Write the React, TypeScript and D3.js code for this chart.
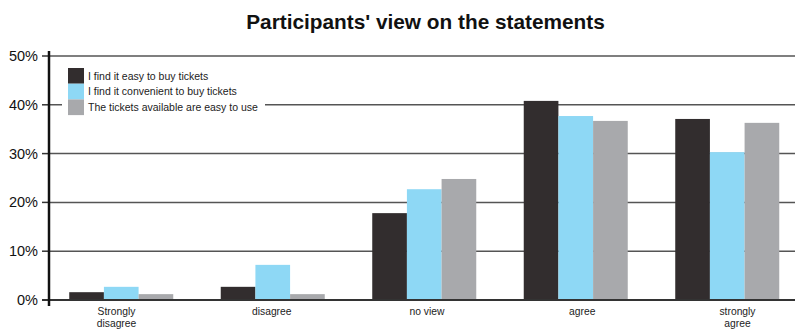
import React from "react";
import * as d3 from "d3";

const categories = ["Strongly disagree", "disagree", "no view", "agree", "strongly agree"];
const categoryLines = [["Strongly", "disagree"], ["disagree"], ["no view"], ["agree"], ["strongly", "agree"]];
const seriesNames = [
  "I find it easy to buy tickets",
  "I find it convenient to buy tickets",
  "The tickets available are easy to use",
];
const easyToBuy = [1.6, 2.7, 17.8, 40.8, 37.1];
const convenient = [2.7, 7.2, 22.7, 37.7, 30.3];
const easyToUse = [1.2, 1.2, 24.8, 36.7, 36.3];
const yTicks = [0, 10, 20, 30, 40, 50];
const colors = ["#322d2e", "#8ed8f5", "#a8a9ac"];

const W = 795;
const H = 331;
const FONT = "'Liberation Sans', Arial, Helvetica, sans-serif";

export default function App() {
  const series = [easyToBuy, convenient, easyToUse];
  const y = d3.scaleLinear().domain([0, 50]).range([300, 56]);
  const x0 = d3.scaleBand<string>().domain(categories).range([45.5, 803]).paddingInner(0.3135).paddingOuter(0.3135 / 2);
  const x1 = d3.scaleBand<number>().domain([0, 1, 2]).range([0, x0.bandwidth()]).padding(0);
  const xl = d3.scalePoint<string>().domain(categories).range([116.5, 737.5]);
  const axisX = 49;

  return (
    <svg width={W} height={H} style={{ position: "absolute", left: 0, top: 0, background: "#fff" }}>
      <text x={425.5} y={29} textAnchor="middle" fontFamily={FONT} fontWeight="bold" fontSize={20.8} fill="#111">
        Participants' view on the statements
      </text>
      {yTicks.filter((t) => t > 0).map((t) => (
        <line key={"g" + t} x1={axisX} x2={W} y1={y(t)} y2={y(t)} stroke="#555" strokeWidth={1.5} />
      ))}
      <rect x={62} y={61} width={203} height={58} fill="#fff" />
      {seriesNames.map((n, i) => (
        <g key={n}>
          <rect x={68} y={68 + i * 15.7} width={16} height={15.7} fill={colors[i]} />
          <text x={88} y={79.5 + i * 15.7} fontFamily={FONT} fontSize={10.5} fill="#222">
            {n}
          </text>
        </g>
      ))}
      {categories.map((c, ci) => (
        <g key={c}>
          {series.map((s, si) => (
            <rect
              key={si}
              x={(x0(c) as number) + (x1(si) as number)}
              y={y(s[ci])}
              width={x1.bandwidth()}
              height={y(0) - y(s[ci])}
              fill={colors[si]}
            />
          ))}
        </g>
      ))}
      <line x1={42} x2={W} y1={y(0)} y2={y(0)} stroke="#333" strokeWidth={2} />
      {yTicks.map((t) => (
        <g key={"t" + t}>
          <line x1={42} x2={axisX} y1={y(t)} y2={y(t)} stroke="#333" strokeWidth={1.5} />
          <text x={38} y={y(t) + 5} textAnchor="end" fontFamily={FONT} fontSize={14.5} fill="#111">
            {t}%
          </text>
        </g>
      ))}
      <line x1={axisX} x2={axisX} y1={51} y2={306} stroke="#111" strokeWidth={2.5} />
      {categories.map((c, ci) => (
        <text key={"l" + c} textAnchor="middle" fontFamily={FONT} fontSize={10.3} fill="#222">
          {categoryLines[ci].map((ln, li) => (
            <tspan key={li} x={xl(c) as number} y={315 + li * 12.3}>
              {ln}
            </tspan>
          ))}
        </text>
      ))}
    </svg>
  );
}
